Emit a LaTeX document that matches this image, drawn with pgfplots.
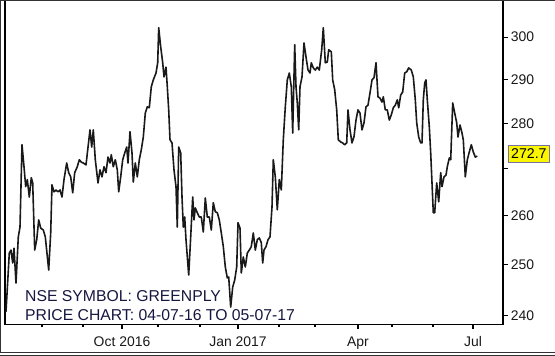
\documentclass[border=0pt]{standalone}
\usepackage{pgfplots}
\pgfplotsset{compat=1.18}
\usepackage{fontspec}
\setmainfont{Liberation Sans}
\definecolor{navytext}{RGB}{22,22,64}
\definecolor{lbl}{RGB}{250,245,0}
\definecolor{boxc}{RGB}{120,112,160}
\begin{document}
\begin{tikzpicture}
\useasboundingbox (0bp,0bp) rectangle (555bp,356bp);
\begin{axis}[
  at={(5bp,31.7bp)}, anchor=south west,
  width=498bp, height=323.8bp, scale only axis,
  xmin=5, xmax=503,
  ymode=log, ymin=238.3, ymax=309.0,
  clip=false,
  axis line style={line width=1.3bp, black},
  xtick={122,238,358,473},
  xticklabels={Oct 2016,Jan 2017,Apr,Jul},
  minor xtick={42,83,158,200,279,315,392,433},
  ytick={240,250,260,270,280,290,300},
  yticklabels={240,250,260,,280,290,300},
  xtick pos=left, ytick pos=right,
  tick align=outside,
  major tick length=4.5bp, minor tick length=3bp,
  tick style={line width=1.1bp, black},
  /pgf/number format/assume math mode=true,
  ticklabel style={font=\fontsize{14}{16}\selectfont, text=black!90},
  yticklabel style={anchor=west, inner sep=0pt, xshift=3.2bp},
  xticklabel style={anchor=base, inner sep=0pt, yshift=-17.9bp},
]
\addplot[line width=1.6bp, black!90, line join=round, mark=none] coordinates {
(6,240.7) (9.3,252.3) (11,252.9) (12.7,250.3) (14,253.3) (16,246.3) (18.3,255.6) (20,257.6)
(22,275.2) (24,270.4) (25.7,266.1) (27.3,267.6) (29.3,263.9) (31.3,268.0) (32.7,266.9)
(34.7,252.9) (36.7,255.0) (38.7,259.1) (40.7,257.4) (43.3,257.0) (45.3,255.6) (48.7,248.9)
(50.7,256.4) (52,266.5) (54,265.0) (56,265.4) (58,265.0) (60,265.4) (62,263.9) (64,267.6)
(66.7,271.2) (68.7,269.1) (70.7,268.2) (72.7,264.8) (74.7,269.1) (77.3,270.4) (79.3,271.9)
(81.3,271.4) (83.3,271.2) (86,270.8) (90,278.5) (91.7,274.7) (93.3,278.5) (95.3,271.9)
(98,266.9) (100,269.7) (102,268.2) (104,270.4) (106,269.1) (108,272.5) (110,271.2)
(111.3,273.0) (113.3,270.4) (115.3,271.9) (117.3,269.7) (118.7,265.0) (120.7,268.2)
(122.7,271.9) (124.7,273.4) (126.7,274.7) (128,271.2) (130,278.1) (132,273.4) (133.3,267.1)
(135.3,271.2) (137.3,268.2) (139.3,271.9) (141.3,274.1) (143.3,276.9) (145.3,282.3)
(147.3,283.7) (149.3,283.5) (151.3,288.3) (153.3,289.9) (156,291.5) (157.7,293.9) (158.7,302.3)
(160.7,297.7) (162.7,293.9) (164,290.6) (166,292.9) (167.3,288.3) (168.7,283.0) (170,276.3)
(172,275.6) (174,269.7) (176,266.1) (177.3,257.6) (178.7,274.7) (180.7,273.4) (182,263.9)
(183.3,257.6) (184.7,259.7) (186,255.0) (188.7,247.9) (190.7,255.6) (192.7,263.9) (194,259.1)
(195.3,261.6) (197.3,260.6) (199.3,259.7) (201.3,259.7) (203.3,256.6) (205.3,263.7)
(207.3,259.7) (209.3,259.7) (211.3,257.0) (213.3,262.7) (215.3,260.8) (217.3,260.6)
(219.3,259.1) (221.3,256.4) (223.3,253.6) (225.3,249.5) (227.3,247.3) (228.7,247.5)
(230.7,241.6) (232.7,245.5) (234.7,246.9) (236.7,249.5) (238,258.5) (240,257.4)
(241.3,248.3) (243.3,251.5) (245.3,249.5) (247.3,252.3) (249.3,252.9) (251.3,253.6)
(253.3,256.4) (255.3,252.9) (257.3,255.0) (259.3,255.4) (261.3,254.4) (262.7,250.3)
(264,252.9) (266,253.6) (268,255.0) (270,255.6) (272,261.8) (273.3,271.9) (275.3,268.2)
(277.3,261.2) (279.3,267.6) (281.3,265.4) (283.3,276.3) (285.3,283.7) (287.3,289.9)
(289.3,291.5) (291.3,288.3) (292.7,277.8) (294.7,298.2) (296,288.3) (297.3,284.6)
(298.7,278.5) (300,288.3) (302,290.6) (304,298.6) (306,295.3) (308,292.2) (310,291.5)
(311.3,293.9) (313.3,292.7) (315.3,292.2) (317.3,292.9) (319.3,292.2) (321.7,297.0)
(323.3,302.3) (325.3,293.9) (327.3,294.1) (328.7,297.0) (331.3,296.5) (332.7,289.9)
(334.7,287.6) (336.7,283.0) (338.3,276.3) (340.7,275.8) (342.7,275.6) (344.7,275.2)
(346.7,275.6) (348,283.0) (350,278.5) (352,275.6) (354,277.0) (356,280.7) (358,283.0)
(360,282.3) (362,278.5) (364,280.1) (366,283.7) (368,284.1) (370,286.9) (372,289.9)
(374,290.4) (376,293.9) (378,286.0) (380,285.7) (382,284.8) (383.3,286.0) (385.3,283.0)
(387.3,283.0) (389.3,280.7) (391.3,281.9) (393.3,283.5) (395.3,284.1) (397.3,285.3)
(398.7,283.5) (400.7,286.4) (402.7,287.1) (404.7,291.5) (406.7,291.8) (408.7,292.7)
(411.3,292.2) (413.3,290.6) (415.3,285.3) (416.7,280.1) (418.7,276.9) (420.7,275.6)
(422,275.6) (423.3,285.3) (424.7,289.2) (426,289.9) (427.3,285.3) (429.3,279.2) (430.7,273.4)
(432,266.9) (433.3,260.6) (434.7,260.6) (436.7,266.9) (438.7,262.9) (440.7,269.1) (442,266.1)
(444,268.2) (446,268.6) (447.3,270.4) (449.3,272.3) (450.7,271.9) (452.7,284.6) (454.7,282.3)
(456.7,280.1) (458,276.9) (460,279.6) (462,277.8) (463.3,276.3) (465.3,268.2) (467.3,271.9)
(469.3,273.6) (471.3,275.2) (473.3,273.6) (475.3,272.5) (477.3,272.7)
};
\node[anchor=west, xshift=4.7bp, fill=lbl, draw=boxc, line width=1bp, inner xsep=3bp,
  inner ysep=0pt, minimum height=17bp, font=\fontsize{14.2}{16}\selectfont]
  at (axis cs:503,273.2) {272.7};
\end{axis}
\node[anchor=base west, inner sep=0pt, text=navytext, font=\fontsize{15.8}{18}\selectfont]
  at (25bp,54bp) {NSE SYMBOL: GREENPLY};
\node[anchor=base west, inner sep=0pt, text=navytext, font=\fontsize{15.8}{18}\selectfont]
  at (25bp,35.3bp) {PRICE CHART: 04-07-16 TO 05-07-17};
\draw[line width=0.8bp, black!80] (0.5bp,3.3bp) -- (0.5bp,355.5bp) -- (555bp,355.5bp);
\draw[line width=0.8bp, black!80] (0bp,3.3bp) -- (555bp,3.3bp);
\draw[line width=0.8bp, black!80] (0bp,1bp) -- (555bp,1bp);
\end{tikzpicture}
\end{document}
